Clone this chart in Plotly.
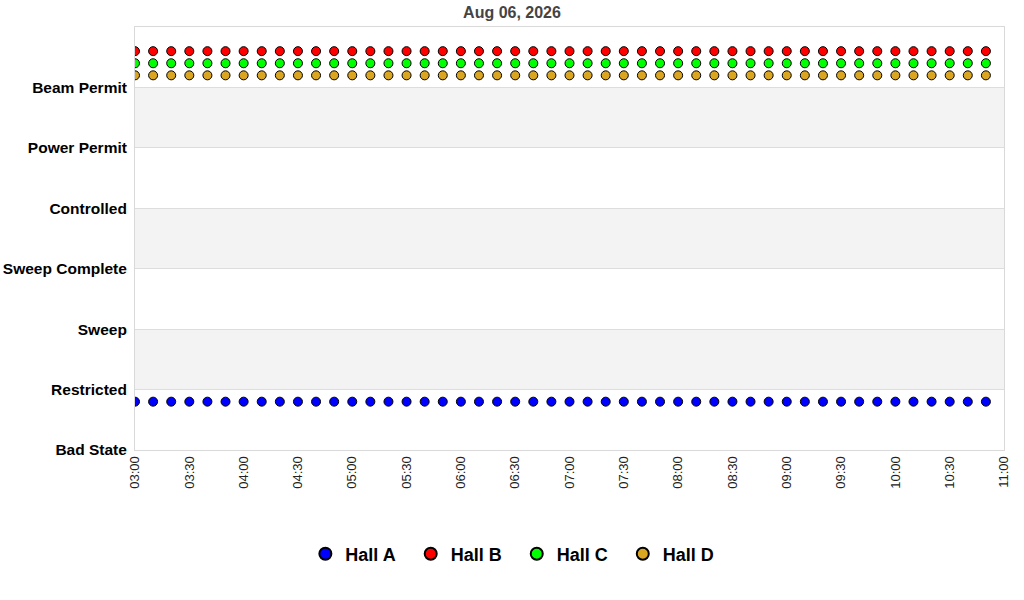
import plotly.graph_objects as go

# sample times (10 minute steps)
times = ["2026-08-06 03:00", "2026-08-06 03:10", "2026-08-06 03:20", "2026-08-06 03:30",
         "2026-08-06 03:40", "2026-08-06 03:50", "2026-08-06 04:00", "2026-08-06 04:10",
         "2026-08-06 04:20", "2026-08-06 04:30", "2026-08-06 04:40", "2026-08-06 04:50",
         "2026-08-06 05:00", "2026-08-06 05:10", "2026-08-06 05:20", "2026-08-06 05:30",
         "2026-08-06 05:40", "2026-08-06 05:50", "2026-08-06 06:00", "2026-08-06 06:10",
         "2026-08-06 06:20", "2026-08-06 06:30", "2026-08-06 06:40", "2026-08-06 06:50",
         "2026-08-06 07:00", "2026-08-06 07:10", "2026-08-06 07:20", "2026-08-06 07:30",
         "2026-08-06 07:40", "2026-08-06 07:50", "2026-08-06 08:00", "2026-08-06 08:10",
         "2026-08-06 08:20", "2026-08-06 08:30", "2026-08-06 08:40", "2026-08-06 08:50",
         "2026-08-06 09:00", "2026-08-06 09:10", "2026-08-06 09:20", "2026-08-06 09:30",
         "2026-08-06 09:40", "2026-08-06 09:50", "2026-08-06 10:00", "2026-08-06 10:10",
         "2026-08-06 10:20", "2026-08-06 10:30", "2026-08-06 10:40", "2026-08-06 10:50"]

# state per hall (offset inside the state band)
hall_a = [0.8, 0.8, 0.8, 0.8, 0.8, 0.8, 0.8, 0.8, 0.8, 0.8, 0.8, 0.8,
          0.8, 0.8, 0.8, 0.8, 0.8, 0.8, 0.8, 0.8, 0.8, 0.8, 0.8, 0.8,
          0.8, 0.8, 0.8, 0.8, 0.8, 0.8, 0.8, 0.8, 0.8, 0.8, 0.8, 0.8,
          0.8, 0.8, 0.8, 0.8, 0.8, 0.8, 0.8, 0.8, 0.8, 0.8, 0.8, 0.8]
hall_b = [6.6, 6.6, 6.6, 6.6, 6.6, 6.6, 6.6, 6.6, 6.6, 6.6, 6.6, 6.6,
          6.6, 6.6, 6.6, 6.6, 6.6, 6.6, 6.6, 6.6, 6.6, 6.6, 6.6, 6.6,
          6.6, 6.6, 6.6, 6.6, 6.6, 6.6, 6.6, 6.6, 6.6, 6.6, 6.6, 6.6,
          6.6, 6.6, 6.6, 6.6, 6.6, 6.6, 6.6, 6.6, 6.6, 6.6, 6.6, 6.6]
hall_c = [6.4, 6.4, 6.4, 6.4, 6.4, 6.4, 6.4, 6.4, 6.4, 6.4, 6.4, 6.4,
          6.4, 6.4, 6.4, 6.4, 6.4, 6.4, 6.4, 6.4, 6.4, 6.4, 6.4, 6.4,
          6.4, 6.4, 6.4, 6.4, 6.4, 6.4, 6.4, 6.4, 6.4, 6.4, 6.4, 6.4,
          6.4, 6.4, 6.4, 6.4, 6.4, 6.4, 6.4, 6.4, 6.4, 6.4, 6.4, 6.4]
hall_d = [6.2, 6.2, 6.2, 6.2, 6.2, 6.2, 6.2, 6.2, 6.2, 6.2, 6.2, 6.2,
          6.2, 6.2, 6.2, 6.2, 6.2, 6.2, 6.2, 6.2, 6.2, 6.2, 6.2, 6.2,
          6.2, 6.2, 6.2, 6.2, 6.2, 6.2, 6.2, 6.2, 6.2, 6.2, 6.2, 6.2,
          6.2, 6.2, 6.2, 6.2, 6.2, 6.2, 6.2, 6.2, 6.2, 6.2, 6.2, 6.2]

state_names = ["Bad State", "Restricted", "Sweep", "Sweep Complete",
               "Controlled", "Power Permit", "Beam Permit"]
state_values = [0, 1, 2, 3, 4, 5, 6]

fig = go.Figure()
for name, vals, color in [("Hall A", hall_a, "#0000ff"),
                          ("Hall B", hall_b, "#ff0000"),
                          ("Hall C", hall_c, "#00ff00"),
                          ("Hall D", hall_d, "#daa520")]:
    fig.add_trace(go.Scatter(x=times, y=vals, name="<b>%s</b>&nbsp;&nbsp;" % name, mode="markers",
                             marker=dict(symbol="circle", size=9, color=color,
                                         line=dict(color="black", width=1))))

# alternating grey bands
for lo in [1, 3, 5]:
    fig.add_shape(type="rect", xref="paper", x0=0, x1=1, yref="y", y0=lo, y1=lo + 1,
                  fillcolor="#f3f3f3", line_width=0, layer="below")

fig.update_layout(
    width=1024, height=600,
    margin=dict(l=135, r=20, t=27, b=150),
    paper_bgcolor="white", plot_bgcolor="white",
    font=dict(family="Liberation Sans, Arial, sans-serif", color="black"),
    title=dict(text="<b>Aug 06, 2026</b>", x=0.5, xanchor="center", y=0.98, yanchor="middle",
               font=dict(size=16, color="#444444")),
    showlegend=True,
    legend=dict(orientation="h", x=0.44, xanchor="center", y=-0.246, yanchor="middle",
                font=dict(size=18, color="black"), itemsizing="constant",
                traceorder="normal", itemwidth=30),
    hovermode="x unified",
)
fig.update_xaxes(range=["2026-08-06 03:00", "2026-08-06 11:00"], dtick=30 * 60 * 1000,
                 tick0="2026-08-06 03:00", tickformat="%H:%M", tickangle=-90,
                 tickfont=dict(size=13, color="#222222"), showgrid=False,
                 showline=True, linecolor="#d9d9d9", mirror=True, ticks="")
fig.update_yaxes(range=[0, 7], tickvals=state_values, ticktext=["<b>%s</b>" % s for s in state_names],
                 tickfont=dict(size=15.5, color="black"), showgrid=True, gridcolor="#dddddd",
                 showline=True, linecolor="#d9d9d9", mirror=True, zeroline=False, ticks="",
                 automargin=False, ticklabelstandoff=4)

fig.write_html("out.html", config={"displayModeBar": False},
               post_script="document.body.style.margin='0';")
